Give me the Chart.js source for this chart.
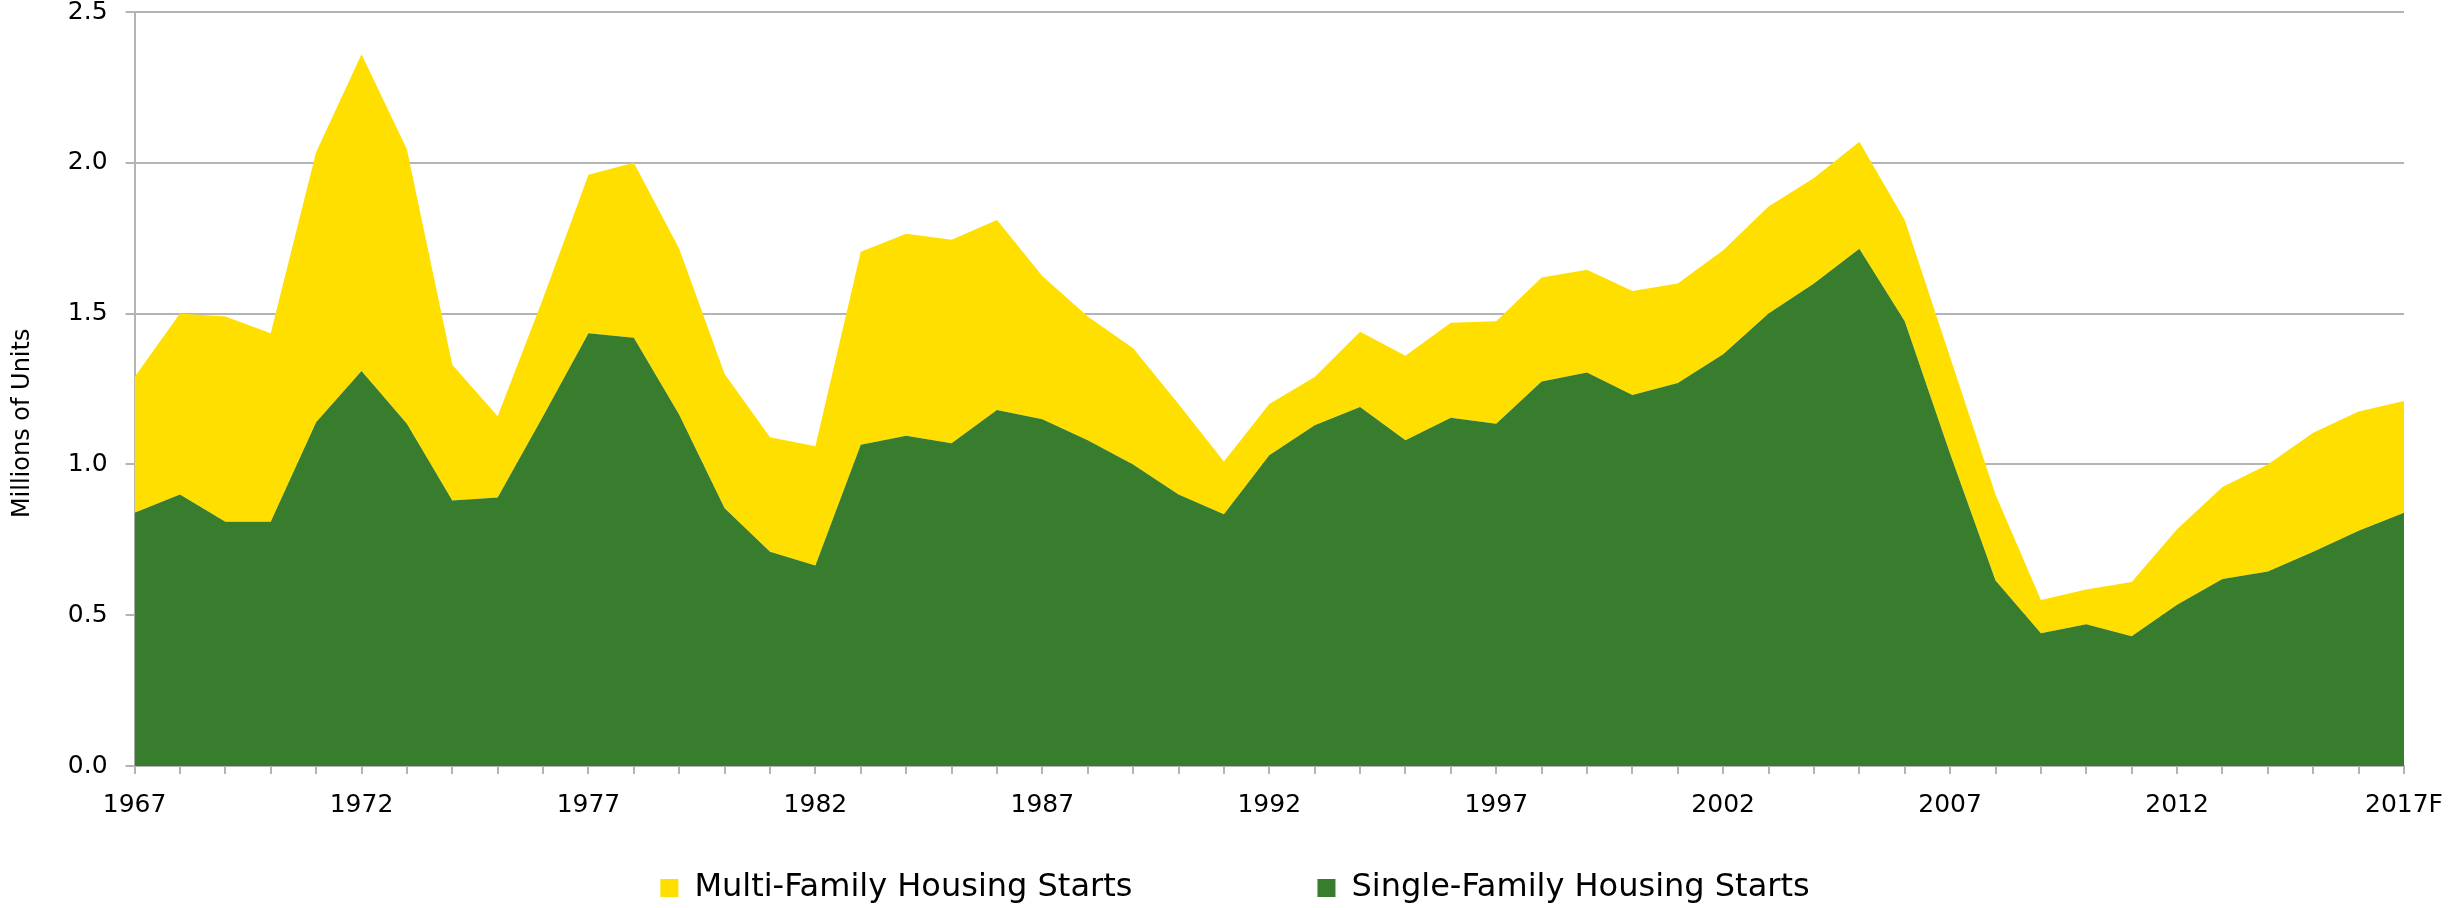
<!DOCTYPE html>
<html>
<head>
<meta charset="utf-8">
<script src="https://cdn.jsdelivr.net/npm/chart.js@4.4.1/dist/chart.umd.min.js"></script>
<style>
  html, body { margin: 0; padding: 0; background: #ffffff; }
  #wrap { width: 2451px; height: 908px; }
</style>
</head>
<body>
<div id="wrap"><canvas id="c" width="2451" height="908"></canvas></div>
<script>
// ---- Data (millions of units) ----
const years = ["1967","1968","1969","1970","1971","1972","1973","1974","1975","1976",
  "1977","1978","1979","1980","1981","1982","1983","1984","1985","1986",
  "1987","1988","1989","1990","1991","1992","1993","1994","1995","1996",
  "1997","1998","1999","2000","2001","2002","2003","2004","2005","2006",
  "2007","2008","2009","2010","2011","2012","2013","2014","2015","2016","2017F"];

const singleFamily = [0.84,0.90,0.81,0.81,1.14,1.31,1.135,0.88,0.89,1.16,
  1.435,1.42,1.165,0.855,0.71,0.665,1.065,1.095,1.07,1.18,
  1.15,1.08,1.00,0.90,0.835,1.03,1.13,1.19,1.08,1.155,
  1.135,1.275,1.305,1.23,1.27,1.365,1.50,1.60,1.715,1.475,
  1.035,0.615,0.44,0.47,0.43,0.535,0.62,0.645,0.71,0.78,0.84];

const multiFamily = [0.45,0.60,0.68,0.625,0.895,1.05,0.91,0.45,0.27,0.39,
  0.525,0.58,0.55,0.445,0.38,0.395,0.64,0.67,0.675,0.63,
  0.475,0.41,0.385,0.30,0.175,0.17,0.16,0.25,0.28,0.315,
  0.34,0.345,0.34,0.345,0.33,0.345,0.355,0.35,0.355,0.335,
  0.32,0.285,0.11,0.115,0.18,0.25,0.305,0.355,0.395,0.395,0.37];

const yTicks = [0, 0.5, 1.0, 1.5, 2.0, 2.5];
const seriesNames = ["Single-Family Housing Starts", "Multi-Family Housing Starts"];
const yTitle = "Millions of Units";

// ---- Styling ----
const GREEN = "#387C2E";
const YELLOW = "#FFDF00";
const GRID = "#B4B4B4";
const FONT = "'DejaVu Sans', Verdana, sans-serif";

const legendShift = {
  id: 'legendShift',
  afterLayout(chart) {
    const lg = chart.legend;
    if (lg) {
      const dx = 33, dy = 6;
      lg.left += dx; lg.right += dx;
      lg.top += dy; lg.bottom += dy;
    }
  }
};

new Chart(document.getElementById('c'), {
  type: 'line',
  data: {
    labels: years,
    datasets: [
      { label: seriesNames[0], data: singleFamily, backgroundColor: GREEN, borderColor: GREEN,
        borderWidth: 0, fill: 'origin', pointRadius: 0, tension: 0 },
      { label: seriesNames[1], data: multiFamily, backgroundColor: YELLOW, borderColor: YELLOW,
        borderWidth: 0, fill: '-1', pointRadius: 0, tension: 0 }
    ]
  },
  options: {
    responsive: false,
    devicePixelRatio: 1,
    animation: false,
    layout: { padding: { left: 0, right: 47, top: 0, bottom: 0 } },
    plugins: {
      tooltip: { enabled: false },
      legend: {
        position: 'bottom',
        reverse: true,
        labels: {
          font: { family: FONT, size: 32 },
          color: '#000',
          boxWidth: 18,
          boxHeight: 18,
          padding: 2,
          generateLabels(chart) {
            const items = Chart.defaults.plugins.legend.labels.generateLabels(chart);
            items.forEach(it => {
              it.lineWidth = 0;
              if (it.datasetIndex === 1) it.text = it.text + ' '.repeat(18);
            });
            return items;
          }
        }
      }
    },
    scales: {
      x: {
        type: 'category',
        offset: false,
        grid: { display: true, drawOnChartArea: false, drawTicks: true, tickLength: 8, color: GRID, lineWidth: 2 },
        border: { display: true, color: GRID, width: 2 },
        ticks: {
          autoSkip: false, maxRotation: 0, minRotation: 0, padding: 16,
          font: { family: FONT, size: 25 }, color: '#000',
          callback: (v, i) => (i % 5 === 0 ? years[i] : '')
        },
        afterFit(scale) { scale.height = 98; scale.paddingRight = 47; }
      },
      y: {
        stacked: true,
        min: 0, max: 2.5,
        grid: { color: GRID, lineWidth: 2, tickLength: 9, drawTicks: true },
        border: { display: true, color: GRID, width: 2 },
        ticks: {
          stepSize: 0.5, padding: 18,
          font: { family: FONT, size: 25 }, color: '#000',
          callback: (v) => Number(v).toFixed(1)
        },
        afterBuildTicks(scale) { scale.ticks = yTicks.map(v => ({ value: v })); },
        afterFit(scale) { scale.paddingTop = 12; },
        title: {
          display: true, text: yTitle + ' '.repeat(9), color: '#000',
          font: { family: FONT, size: 24 },
          padding: { top: 8, bottom: 13 }
        }
      }
    }
  },
  plugins: [legendShift]
});
</script>
</body>
</html>
